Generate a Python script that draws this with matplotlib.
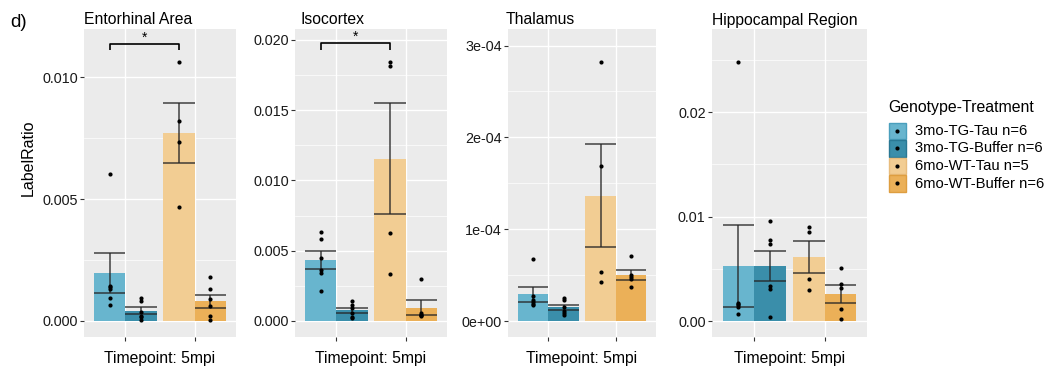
import numpy as np
import matplotlib
matplotlib.use("Agg")
import matplotlib.pyplot as plt
from matplotlib.patches import Rectangle

plt.rcParams['font.family'] = ['Liberation Sans', 'DejaVu Sans']

# ---------------- data ----------------
regions = ["Entorhinal Area", "Isocortex", "Thalamus", "Hippocampal Region"]
groups = ["3mo-TG-Tau n=6", "3mo-TG-Buffer n=6", "6mo-WT-Tau n=5", "6mo-WT-Buffer n=6"]
legend_title = "Genotype-Treatment"
x_label = "Timepoint: 5mpi"
y_label = "LabelRatio"
panel_tag = "d)"

entorhinal = [
    [0.00602, 0.00145, 0.00140, 0.00130, 0.00093, 0.00064],
    [0.00095, 0.00080, 0.00035, 0.00022, 0.00015, 0.00006],
    [0.01062, 0.00822, 0.00733, 0.00469],
    [0.00182, 0.00130, 0.00090, 0.00060, 0.00020, 0.00005],
]
isocortex = [
    [0.00636, 0.00581, 0.00451, 0.00363, 0.00344, 0.00214],
    [0.00142, 0.00114, 0.00090, 0.00055, 0.00031, 0.00019],
    [0.01846, 0.01815, 0.00629, 0.00335],
    [0.00299, 0.00055, 0.00043, 0.00036, 0.00040],
]
thalamus = [
    [6.72e-5, 2.76e-5, 2.29e-5, 2.03e-5, 1.85e-5, 1.74e-5],
    [2.47e-5, 2.29e-5, 1.56e-5, 1.13e-5, 0.84e-5, 0.62e-5],
    [2.818e-4, 1.689e-4, 5.30e-5, 4.29e-5],
    [7.08e-5, 5.01e-5, 4.76e-5, 4.54e-5, 3.70e-5],
]
hippocampal = [
    [0.02479, 0.00176, 0.00160, 0.00150, 0.00130, 0.00064],
    [0.00955, 0.00779, 0.00735, 0.00333, 0.00304, 0.00035],
    [0.00904, 0.00856, 0.00402, 0.00297],
    [0.00508, 0.00355, 0.00316, 0.00115, 0.00016],
]
region_data = [entorhinal, isocortex, thalamus, hippocampal]

ytick_values = [
    [0.000, 0.005, 0.010],
    [0.000, 0.005, 0.010, 0.015, 0.020],
    [0.0, 1e-4, 2e-4, 3e-4],
    [0.00, 0.01, 0.02],
]
ytick_labels = [
    ["0.000", "0.005", "0.010"],
    ["0.000", "0.005", "0.010", "0.015", "0.020"],
    ["0e+00", "1e-04", "2e-04", "3e-04"],
    ["0.00", "0.01", "0.02"],
]
ylims = [(-0.000657, 0.01198), (-0.00114, 0.02078), (-1.74e-5, 3.18e-4), (-0.00153, 0.02798)]

# significance brackets: (region, group a, group b, line y, tip y, label)
brackets = [
    (0, 0, 2, 0.01137, 0.01110, "*"),
    (1, 0, 2, 0.01977, 0.01929, "*"),
]

# ---------------- style ----------------
colors = ['#68B5CE', '#3A8EAA', '#F2CD93', '#EBB058']
edges = ['#4A9FBD', '#2A7894', '#E8BC7C', '#DE9E40']
bg = '#EBEBEB'
W, H = 1055, 373
panel_px = [(84, 152), (295, 152), (508, 148), (712, 155)]
title_px = [84, 301, 506, 712]
top_px, bot_px = 29, 337
bar_w = 0.45
xpos = [1 - bar_w / 2, 1 + bar_w / 2, 2 - bar_w / 2, 2 + bar_w / 2]

fig = plt.figure(figsize=(W / 100, H / 100), dpi=100)

for r, (left, width) in enumerate(panel_px):
    ax = fig.add_axes([left / W, 1 - bot_px / H, width / W, (bot_px - top_px) / H])
    ax.set_facecolor(bg)
    for s in ax.spines.values():
        s.set_visible(False)
    yt = ytick_values[r]
    ax.set_yticks(yt)
    ax.set_yticklabels(ytick_labels[r])
    step = yt[1] - yt[0]
    minors = [v + step / 2 for v in yt]
    ax.set_yticks(minors, minor=True)
    ax.set_xticks([1, 2])
    ax.set_xticklabels(["", ""])
    ax.set_xlim(0.4, 2.6)
    ax.set_ylim(*ylims[r])
    ax.grid(True, which='major', color='white', lw=1.0, zorder=0)
    ax.grid(True, which='minor', axis='y', color='white', lw=0.5, zorder=0)
    ax.set_axisbelow(True)
    ax.tick_params(axis='both', which='major', length=3, width=0.8, color='#333333',
                   labelsize=10.4, labelcolor='#1a1a1a', pad=1.5)
    ax.tick_params(axis='y', which='minor', length=0)

    data = region_data[r]
    for g, pts in enumerate(data):
        pts = np.asarray(pts)
        m = pts.mean()
        se = pts.std(ddof=1) / np.sqrt(len(pts))
        x = xpos[g]
        ax.bar(x, m, width=bar_w, color=colors[g], lw=0, zorder=2)
        ax.vlines(x, m - se, m + se, color='#262626', alpha=0.8, lw=1.2, zorder=3)
        ax.hlines([m - se, m + se], x - bar_w / 2, x + bar_w / 2, color='#262626',
                  alpha=0.8, lw=1.2, zorder=3)
        ax.scatter(np.full(len(pts), x), pts, s=9, color='black', lw=0, zorder=4)

    for (rr, a, b, yl, ytip, lab) in brackets:
        if rr != r:
            continue
        xa, xb = xpos[a], xpos[b]
        ax.plot([xa, xa, xb, xb], [ytip, yl, yl, ytip], color='black', lw=1.2,
                solid_capstyle='butt', zorder=5, clip_on=False)
        ax.annotate(lab, xy=((xa + xb) / 2, yl), xytext=(0, 1.5), textcoords='offset points',
                    ha='center', va='baseline', fontsize=10, zorder=5)

    ax.annotate(x_label, xy=(0.5, 0), xycoords='axes fraction', xytext=(0, -26.3 * 0.72),
                textcoords='offset points', ha='center', va='baseline', fontsize=11.3)
    fig.text(title_px[r] / W, 1 - 24.5 / H, regions[r], ha='left', va='baseline', fontsize=11.3)

fig.text(28.5 / W, 1 - 157.5 / H, y_label, rotation=90, ha='center', va='center', fontsize=11.5)
fig.text(10 / W, 1 - 27 / H, panel_tag, ha='left', va='baseline', fontsize=13.5)

# legend (manual, in pixel coordinates)
lax = fig.add_axes([0, 0, 1, 1], zorder=10)
lax.set_xlim(0, W)
lax.set_ylim(H, 0)
lax.axis('off')
lax.text(888, 107.5, legend_title, ha='left', va='center', fontsize=11.4)
for i, (name, c, e) in enumerate(zip(groups, colors, edges)):
    y0 = 122 + i * 17.5
    lax.add_patch(Rectangle((888.5, y0 + 0.5), 17, 16.5, facecolor=c, edgecolor=e, lw=1.0))
    lax.scatter([897], [y0 + 8.75], s=9, color='black', lw=0)
    lax.text(915, y0 + 9, name, ha='left', va='center', fontsize=10.6)

fig.savefig("out.png", dpi=100)
